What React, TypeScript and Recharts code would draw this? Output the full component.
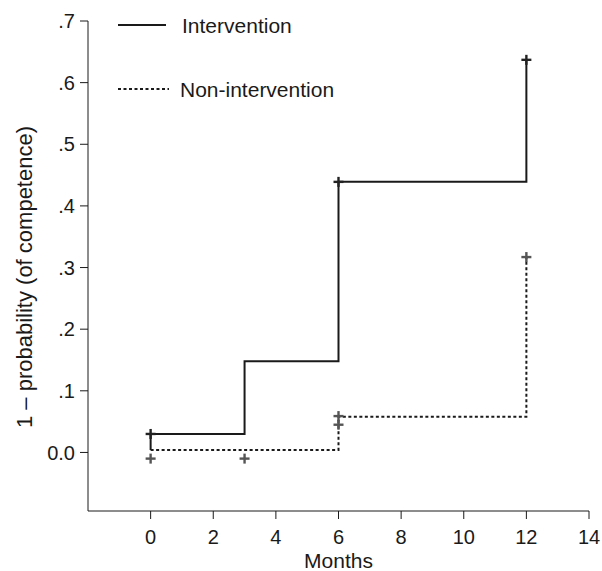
import React from 'react'
import { ComposedChart, Line, Scatter, XAxis, YAxis, Label } from 'recharts'

// Kaplan-Meier style step curves (months vs 1 - probability of competence)
const interventionX = [0, 0, 3, 6, 12]
const interventionY = [0.004, 0.03, 0.148, 0.439, 0.637]
const nonInterventionX = [0, 6, 12]
const nonInterventionY = [0.004, 0.058, 0.317]

// censor marks
const interventionCensorX = [0, 6, 12]
const interventionCensorY = [0.03, 0.439, 0.637]
const nonInterventionCensorX = [0, 3, 6, 6, 12]
const nonInterventionCensorY = [-0.01, -0.01, 0.059, 0.045, 0.317]

const xTicks = [0, 2, 4, 6, 8, 10, 12, 14]
const yTicks = [0, 0.1, 0.2, 0.3, 0.4, 0.5, 0.6, 0.7]
const legendLabels = ['Intervention', 'Non-intervention']

const FONT = '"Liberation Sans", Arial, sans-serif'
const INK = '#1a1a1a'

const zip = (xs: number[], ys: number[]) => xs.map((x, i) => ({ x, y: ys[i] }))

const interventionData = zip(interventionX, interventionY)
const nonInterventionData = zip(nonInterventionX, nonInterventionY)
const interventionCensor = zip(interventionCensorX, interventionCensorY)
const nonInterventionCensor = zip(nonInterventionCensorX, nonInterventionCensorY)

const plus = (color: string) => (props: any) => {
  const { cx, cy } = props
  return (
    <g stroke={color} strokeWidth={2.4}>
      <line x1={cx - 5} y1={cy} x2={cx + 5} y2={cy} />
      <line x1={cx} y1={cy - 5} x2={cx} y2={cy + 5} />
    </g>
  )
}

const fmtY = (v: number) => (v === 0 ? '0.0' : '.' + Math.round(v * 10))

export default function App() {
  return (
    <div style={{ position: 'absolute', left: 0, top: 0, width: 602, height: 571, background: '#fff' }}>
      <ComposedChart width={602} height={571} margin={{ top: 21, right: 13, left: 28, bottom: 20 }}>
        <XAxis
          dataKey="x"
          type="number"
          domain={[-2, 14]}
          ticks={xTicks}
          allowDataOverflow
          height={40}
          tickSize={8}
          stroke={INK}
          tick={{ fill: INK, fontSize: 20, fontFamily: FONT }}
          tickMargin={11}
        >
          <Label
            content={({ viewBox }: any) => (
              <text
                x={viewBox.x + viewBox.width / 2}
                y={viewBox.y + 57}
                textAnchor="middle"
                fontSize={21}
                fontFamily={FONT}
                fill={INK}
              >
                Months
              </text>
            )}
          />
        </XAxis>
        <YAxis
          type="number"
          domain={[-0.095, 0.7]}
          ticks={yTicks}
          allowDataOverflow
          width={60}
          tickSize={8}
          stroke={INK}
          tickFormatter={fmtY}
          tick={{ fill: INK, fontSize: 20, fontFamily: FONT }}
          tickMargin={5}
        >
          <Label
            content={({ viewBox }: any) => {
              const cx = 24
              const cy = viewBox.y + viewBox.height / 2 + 11
              return (
                <text
                  x={cx}
                  y={cy}
                  transform={`rotate(-90 ${cx} ${cy})`}
                  textAnchor="middle"
                  dominantBaseline="central"
                  fontSize={22}
                  fontFamily={FONT}
                  fill={INK}
                >
                  1 – probability (of competence)
                </text>
              )
            }}
          />
        </YAxis>
        <Line
          data={interventionData}
          dataKey="y"
          type="stepAfter"
          stroke={INK}
          strokeWidth={2}
          dot={false}
          isAnimationActive={false}
        />
        <Line
          data={nonInterventionData}
          dataKey="y"
          type="stepAfter"
          stroke={INK}
          strokeWidth={2}
          strokeDasharray="3 2.5"
          dot={false}
          isAnimationActive={false}
        />
        <Scatter data={interventionCensor} dataKey="y" shape={plus('#222')} isAnimationActive={false} />
        <Scatter data={nonInterventionCensor} dataKey="y" shape={plus('#555')} isAnimationActive={false} />
      </ComposedChart>
      <svg width={260} height={110} style={{ position: 'absolute', left: 110, top: 0 }}>
        {legendLabels.map((name, i) => (
          <g key={name}>
            <line
              x1={8}
              x2={i === 0 ? 56 : 59}
              y1={25 + i * 64}
              y2={25 + i * 64}
              stroke={INK}
              strokeWidth={2}
              strokeDasharray={i === 0 ? undefined : '3 2.5'}
            />
            <text
              x={i === 0 ? 72 : 70}
              y={25 + i * 64}
              dominantBaseline="central"
              fontSize={21}
              fontFamily={FONT}
              fill={INK}
            >
              {name}
            </text>
          </g>
        ))}
      </svg>
    </div>
  )
}
